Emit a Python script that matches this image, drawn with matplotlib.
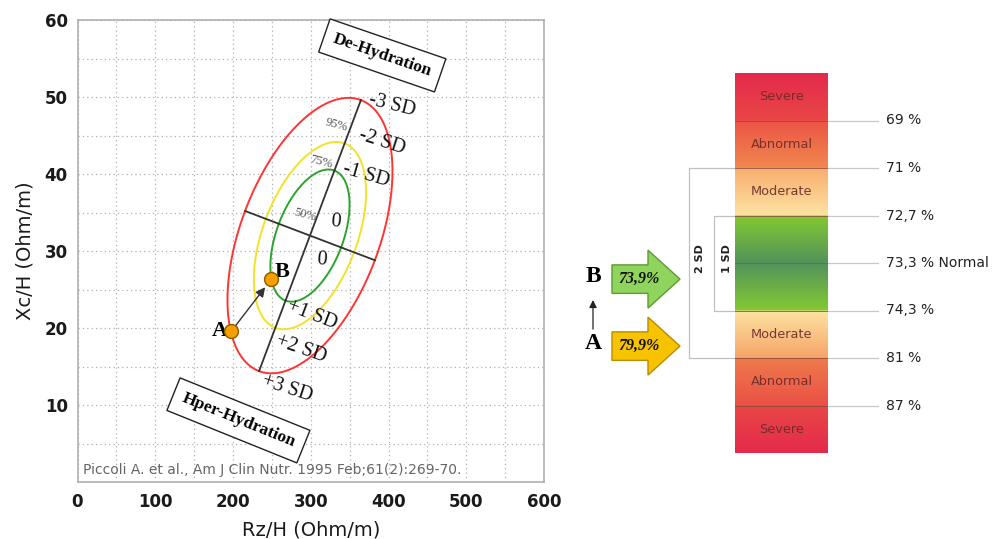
import matplotlib.pyplot as plt
import numpy as np
from matplotlib.colors import to_rgb
from matplotlib.patches import FancyArrow

# ---- left chart data (Rz/H, Xc/H) ----
center = (299, 32)
major_half = (65.5, 17.6)    # semi-axis to -3 SD (95% ellipse)
minor_half = (83.5, -3.2)
levels = [0.48, 0.68, 1.0]           # 50 %, 75 %, 95 % tolerance ellipses
level_colors = ["#2ca42c", "#f2e22a", "#ff3434"]
pct_labels = ["50%", "75%", "95%"]
pct_x = [309, 330, 349]
pct_y = [34.7, 41.5, 46.3]

sd_labels = ["-3 SD", "-2 SD", "-1 SD", "0", "0", "+1 SD", "+2 SD", "+3 SD"]
sd_x = [372, 359, 339, 324, 306, 266, 252, 234]
sd_y = [48.9, 44.2, 39.8, 33.8, 28.8, 21.7, 17.2, 12.1]
sd_rot = [-14, -18, -16, -5, -5, -21, -19, -18]

point_names = ["A", "B"]
point_x = [198, 249]
point_y = [19.6, 26.3]

# ---- right chart data ----
bands = ["Severe", "Abnormal", "Moderate", "", "", "Moderate", "Abnormal", "Severe"]
band_top = ["#e42a4c", "#ec5446", "#f7ae6e", "#84c932", "#52935a", "#fde3a2", "#ef7a4c", "#e94746"]
band_bot = ["#e94746", "#f08850", "#fde3a2", "#52935a", "#84c932", "#f6a468", "#eb5046", "#e42a4c"]
thresholds = ["69 %", "71 %", "72,7 %", "73,3 % Normal", "74,3 %", "81 %", "87 %"]
patients = ["B", "A"]
patient_vals = ["73,9%", "79,9%"]
patient_pos = [4.34, 5.75]
patient_fc = ["#8fd45c", "#f7c200"]
patient_ec = ["#5c9a32", "#b88c00"]

fig = plt.figure(figsize=(9.92, 5.39), dpi=100)

######## left: RXc graph
ax = fig.add_axes([77.5/992, 57/539, 466.5/992, 462/539])
ax.set_xlim(0, 600)
ax.set_ylim(0, 60)
ax.set_xticks(range(0, 601, 100))
ax.set_yticks(range(10, 61, 10))
ax.set_xticks(range(0, 601, 50), minor=True)
ax.set_yticks(range(0, 61, 5), minor=True)
ax.grid(which="both", color="#b0b0b0", linestyle=(0, (1, 2.5)), linewidth=0.9)
ax.tick_params(which="both", length=0, labelsize=12, labelcolor="#1a1a1a")
ax.tick_params(axis="x", pad=8)
ax.tick_params(axis="y", pad=7)
for lab in ax.get_xticklabels() + ax.get_yticklabels():
    lab.set_fontweight("bold")
for s in ax.spines.values():
    s.set_color("#b0b0b0")
    s.set_linewidth(1.2)
ax.set_xlabel("Rz/H (Ohm/m)", fontsize=14, color="#1a1a1a", labelpad=7)
ax.set_ylabel("Xc/H (Ohm/m)", fontsize=14, color="#1a1a1a", labelpad=7)

t = np.linspace(0, 2*np.pi, 300)
for k, c in zip(levels, level_colors):
    ex = center[0] + k*(np.cos(t)*major_half[0] + np.sin(t)*minor_half[0])
    ey = center[1] + k*(np.cos(t)*major_half[1] + np.sin(t)*minor_half[1])
    ax.plot(ex, ey, color=c, lw=1.4)

ax.plot([center[0]-major_half[0], center[0]+major_half[0]],
        [center[1]-major_half[1], center[1]+major_half[1]], color="#333", lw=1.3)
ax.plot([center[0]-minor_half[0], center[0]+minor_half[0]],
        [center[1]-minor_half[1], center[1]+minor_half[1]], color="#333", lw=1.3)

for lab, x, y, r in zip(sd_labels, sd_x, sd_y, sd_rot):
    ax.text(x, y, lab, fontsize=14.5, family="Liberation Serif", rotation=r,
            ha="left", va="center", color="#111")
for lab, x, y in zip(pct_labels, pct_x, pct_y):
    ax.text(x, y, lab, fontsize=9, family="Liberation Serif", rotation=-15,
            ha="right", va="center", color="#555")

ax.annotate("", xy=(point_x[1], point_y[1]), xytext=(point_x[0], point_y[0]),
            arrowprops=dict(arrowstyle="-|>", color="#333", lw=1.0,
                            shrinkA=5, shrinkB=7, mutation_scale=14))
ax.plot(point_x, point_y, "o", ms=10, mfc="#f5a000", mec="#8a5a00", mew=1.0, zorder=5)
ax.text(point_x[0]-4, point_y[0], point_names[0], fontsize=16, family="Liberation Serif",
        weight="bold", ha="right", va="center")
ax.text(point_x[1]+5, point_y[1]+1.0, point_names[1], fontsize=16, family="Liberation Serif",
        weight="bold", ha="left", va="center")

box = dict(boxstyle="square,pad=0.55", fc="white", ec="#222", lw=1.0)
ax.text(392, 55.4, "De-Hydration", fontsize=12.5, family="Liberation Serif", weight="bold",
        rotation=-19, rotation_mode="anchor", ha="center", va="center", bbox=box)
ax.text(207, 8.0, "Hper-Hydration", fontsize=12.5, family="Liberation Serif", weight="bold",
        rotation=-22, rotation_mode="anchor", ha="center", va="center", bbox=box)

ax.text(6.5, 1.6, "Piccoli A. et al., Am J Clin Nutr. 1995 Feb;61(2):269-70.",
        fontsize=10, color="#666", ha="left", va="center")

######## right: hydration scale
rx = fig.add_axes([560/992, 0, 432/992, 1])
rx.set_xlim(560, 992)
rx.set_ylim((539-73)/47.5, -73/47.5)
rx.axis("off")

bar_l, bar_r = 735, 828
rows = []
for i in range(len(bands)):
    c0 = np.array(to_rgb(band_top[i]))
    c1 = np.array(to_rgb(band_bot[i]))
    f = np.linspace(0, 1, 60)[:, None]
    rows.append(c0*(1-f) + c1*f)
img = np.concatenate(rows)[:, None, :]
rx.imshow(img, extent=(bar_l, bar_r, len(bands), 0), aspect="auto",
          interpolation="bilinear", zorder=1)

for i, lab in enumerate(bands):
    if lab:
        rx.text((bar_l+bar_r)/2, i+0.5, lab, fontsize=9.3, color="#6a2a2a",
                ha="center", va="center", alpha=0.9)

for i, lab in enumerate(thresholds, start=1):
    lc = "#3f7a55" if i == 4 else "#8a4a3a"
    rx.plot([bar_l, bar_r], [i, i], color=lc, lw=0.7, alpha=0.8, zorder=2)
    rx.plot([bar_r, 878], [i, i], color="#c8c8c8", lw=0.9)
    rx.text(886, i, lab, fontsize=10, color="#222", ha="left", va="center")

# SD brackets
for x0, i0, i1, lab, tx in [(689, 2, 6, "2 SD", 700), (714, 3, 5, "1 SD", 727)]:
    rx.plot([bar_l, x0, x0, bar_l], [i0, i0, i1, i1], color="#c0c0c0", lw=0.9, zorder=0)
    rx.text(tx, 3.9, lab, fontsize=8, weight="bold", rotation=90, ha="center",
            va="center", color="#222")

# patient arrows
for name, val, y, fc, ec in zip(patients, patient_vals, patient_pos, patient_fc, patient_ec):
    rx.add_patch(FancyArrow(612, y, 68, 0, width=0.6, head_width=1.22, head_length=32,
                            length_includes_head=True, fc=fc, ec=ec, lw=1.0))
    rx.text(639, y, val, fontsize=11.5, family="Liberation Serif", weight="bold",
            style="italic", ha="center", va="center", color="#111")
    rx.text(593, y - 0.05, name, fontsize=17, family="Liberation Serif", weight="bold",
            ha="center", va="center")
rx.annotate("", xy=(593, patient_pos[0] + 0.38), xytext=(593, patient_pos[1] - 0.3),
            arrowprops=dict(arrowstyle="-|>", color="#222", lw=0.9, mutation_scale=11))

fig.savefig("out.png", dpi=100)
